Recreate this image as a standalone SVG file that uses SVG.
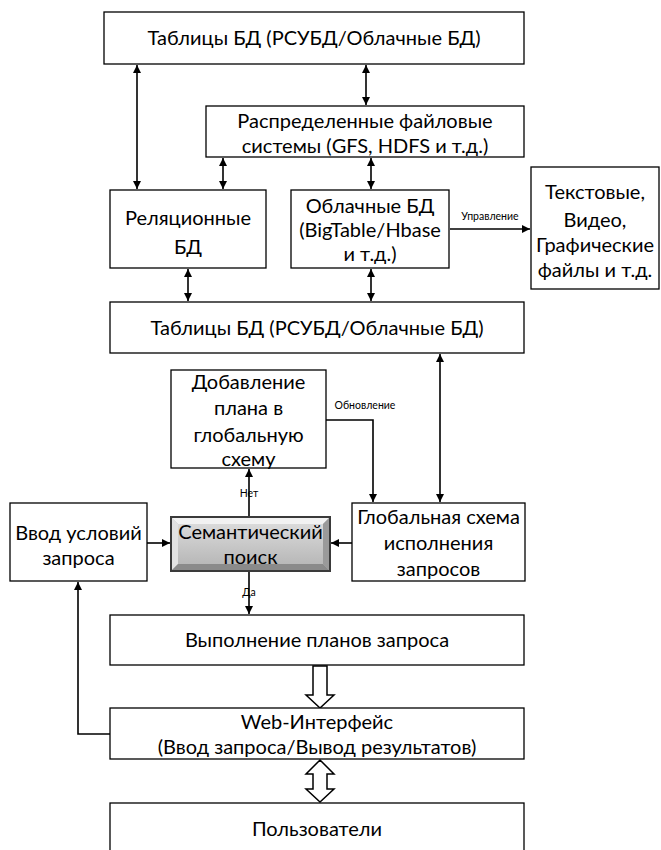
<svg xmlns="http://www.w3.org/2000/svg" width="661" height="850" viewBox="0 0 661 850">
<style>
.box{fill:#fff;stroke:#000;stroke-width:1.3}
.t{font-family:Lato,"Liberation Sans",Arial,sans-serif;font-size:20px;fill:#000;text-anchor:middle}
.s{font-family:Lato,"Liberation Sans",Arial,sans-serif;font-size:10.5px;fill:#000;text-anchor:middle}
.c{fill:none;stroke:#000;stroke-width:1.6}
.ba{fill:#fff;stroke:#000;stroke-width:1.5}
</style>
<defs>
<marker id="ah" viewBox="0 0 10 10" refX="10" refY="5" markerWidth="5" markerHeight="5" orient="auto-start-reverse" markerUnits="strokeWidth">
<path d="M0,0 L10,5 L0,10 z" fill="#000"/>
</marker>
<linearGradient id="sg" x1="0" y1="0" x2="0" y2="1">
<stop offset="0" stop-color="#dadada"/>
<stop offset="1" stop-color="#b8b8b8"/>
</linearGradient>
</defs>
<rect width="661" height="850" fill="#fff"/>
<g id="connectors">
<line class="c" x1="137" y1="65" x2="137" y2="189" marker-start="url(#ah)" marker-end="url(#ah)"/>
<line class="c" x1="366" y1="65" x2="366" y2="105" marker-start="url(#ah)" marker-end="url(#ah)"/>
<line class="c" x1="223" y1="158" x2="223" y2="189" marker-start="url(#ah)" marker-end="url(#ah)"/>
<line class="c" x1="371" y1="158" x2="371" y2="189" marker-start="url(#ah)" marker-end="url(#ah)"/>
<line class="c" x1="188" y1="269" x2="188" y2="301" marker-start="url(#ah)" marker-end="url(#ah)"/>
<line class="c" x1="371" y1="269" x2="371" y2="301" marker-start="url(#ah)" marker-end="url(#ah)"/>
<line class="c" x1="450" y1="229" x2="530" y2="229" marker-end="url(#ah)"/>
<text class="s" x="490" y="220">Управление</text>
<line class="c" x1="440" y1="354" x2="440" y2="502" marker-start="url(#ah)" marker-end="url(#ah)"/>
<polyline class="c" points="326,420 373,420 373,502" marker-end="url(#ah)"/>
<text class="s" x="365" y="409">Обновление</text>
<line class="c" x1="249" y1="516" x2="249" y2="469" marker-end="url(#ah)"/>
<text class="s" x="249" y="497">Нет</text>
<line class="c" x1="249" y1="572" x2="249" y2="614" marker-end="url(#ah)"/>
<text class="s" x="249" y="596">Да</text>
<line class="c" x1="147" y1="543" x2="170" y2="543" marker-end="url(#ah)"/>
<line class="c" x1="352" y1="543" x2="331" y2="543" marker-end="url(#ah)"/>
<polyline class="c" points="110,734 78,734 78,582" marker-end="url(#ah)"/>
<path class="ba" d="M313,666 L327,666 L327,695 L334,695 L320,708 L306,695 L313,695 Z"/>
<path class="ba" d="M320,760 L334,774 L327,774 L327,789 L334,789 L320,802 L306,789 L313,789 L313,774 L306,774 Z"/>
</g>
<g id="n1"><rect class="box" x="104" y="12" width="420" height="52"/><text class="t" x="314" y="45">Таблицы БД (РСУБД/Облачные БД)</text></g>
<g id="n2"><rect class="box" x="206" y="106" width="318" height="51"/><text class="t" x="365" y="128">Распределенные файловые</text><text class="t" x="365" y="153">системы (GFS, HDFS и т.д.)</text></g>
<g id="n3"><rect class="box" x="110" y="190" width="156" height="78"/><text class="t" x="188" y="225">Реляционные</text><text class="t" x="188" y="254">БД</text></g>
<g id="n4"><rect class="box" x="291" y="190" width="158" height="78"/><text class="t" x="370" y="213">Облачные БД</text><text class="t" x="370" y="237">(BigTable/Hbase</text><text class="t" x="370" y="261">и т.д.)</text></g>
<g id="n5"><rect class="box" x="531" y="167" width="128" height="122"/><text class="t" x="595" y="199">Текстовые,</text><text class="t" x="595" y="227">Видео,</text><text class="t" x="595" y="252">Графические</text><text class="t" x="595" y="277">файлы и т.д.</text></g>
<g id="n6"><rect class="box" x="110" y="302" width="414" height="51"/><text class="t" x="317" y="335">Таблицы БД (РСУБД/Облачные БД)</text></g>
<g id="n7"><rect class="box" x="171" y="370" width="155" height="98"/><text class="t" x="248.5" y="389">Добавление</text><text class="t" x="248.5" y="415">плана в</text><text class="t" x="248.5" y="442">глобальную</text><text class="t" x="248.5" y="466">схему</text></g>
<g id="n8"><rect class="box" x="10" y="503" width="137" height="78"/><text class="t" x="78.5" y="540">Ввод условий</text><text class="t" x="78.5" y="565">запроса</text></g>
<g id="n9">
<rect x="171" y="517" width="159" height="54" fill="#c4c4c4" stroke="#3a3a3a" stroke-width="2"/>
<polygon points="172,518 329,518 323,524 178,524" fill="#f2f2f2"/>
<polygon points="172,518 178,524 178,564 172,570" fill="#e2e2e2"/>
<polygon points="329,518 329,570 323,564 323,524" fill="#9a9a9a"/>
<polygon points="172,570 178,564 323,564 329,570" fill="#8a8a8a"/>
<rect x="178" y="524" width="145" height="40" fill="url(#sg)"/>
<text class="t" x="250.5" y="539">Семантический</text><text class="t" x="250.5" y="564">поиск</text></g>
<g id="n10"><rect class="box" x="352" y="503" width="173" height="78"/><text class="t" x="438.5" y="524">Глобальная схема</text><text class="t" x="438.5" y="550">исполнения</text><text class="t" x="438.5" y="576">запросов</text></g>
<g id="n11"><rect class="box" x="110" y="615" width="414" height="50"/><text class="t" x="317" y="647">Выполнение планов запроса</text></g>
<g id="n12"><rect class="box" x="110" y="708" width="414" height="51"/><text class="t" x="317" y="729">Web-Интерфейс</text><text class="t" x="317" y="754">(Ввод запроса/Вывод результатов)</text></g>
<g id="n13"><rect class="box" x="110" y="803" width="414" height="60"/><text class="t" x="317" y="836">Пользователи</text></g>
</svg>
